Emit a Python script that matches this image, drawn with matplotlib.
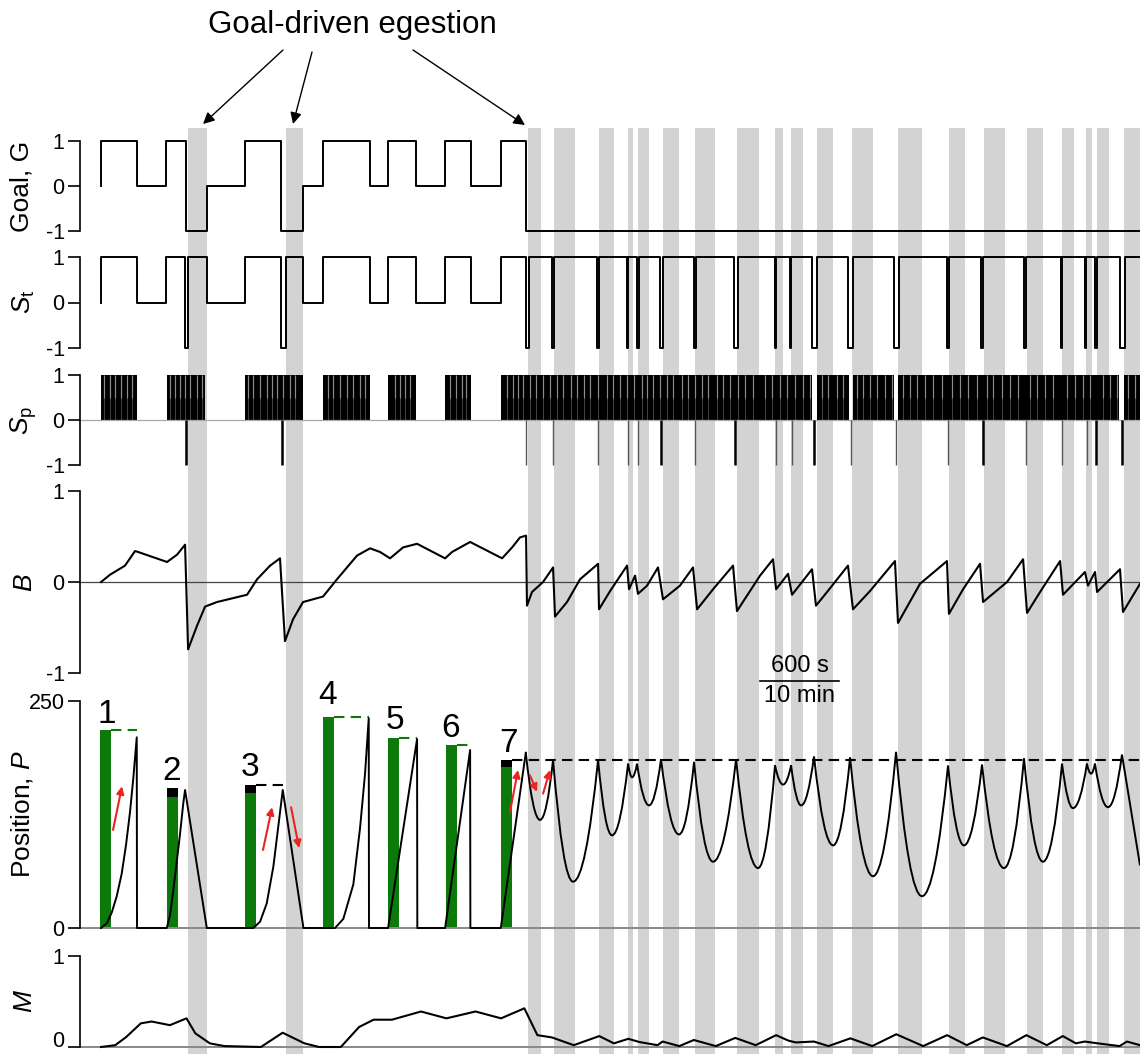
import numpy as np
import matplotlib
matplotlib.use("Agg")
import matplotlib.pyplot as plt
from matplotlib.path import Path
from matplotlib.patches import PathPatch

plt.rcParams['font.family'] = ['Liberation Sans', 'DejaVu Sans']
plt.rcParams['mathtext.fontset'] = 'custom'
plt.rcParams['mathtext.rm'] = 'Liberation Sans'
plt.rcParams['mathtext.it'] = 'Liberation Sans:italic'
plt.rcParams['axes.unicode_minus'] = False

# ---- data (time in seconds) ----
# grey bands (egestion periods)
bands = [(661, 805), (1405, 1534), (3241, 3342), (3440, 3600), (3782, 3896),
         (4003, 4040), (4078, 4162), (4268, 4390), (4511, 4663), (4830, 4998),
         (5119, 5180), (5241, 5332), (5438, 5560), (5704, 5863), (6053, 6235),
         (6441, 6562), (6706, 6866), (7033, 7154), (7299, 7390), (7481, 7527),
         (7565, 7656), (7770, 7960)]

# goal G, step changes
goal_t = [0, 0, 273, 494, 646, 805, 1094, 1367, 1534, 1686, 2043, 2180, 2392,
          2613, 2810, 3038, 3228]
goal_v = [0, 1, 0, 1, -1, 0, 1, -1, 0, 1, 0, 1, 0, 1, 0, 1, -1]

# St, step changes before the switch, then brief -1 pulses
st_t = [0, 0, 273, 494, 638, 661, 805, 1094, 1367, 1405, 1534, 1686, 2043,
        2180, 2392, 2613, 2810, 3038]
st_v = [0, 1, 0, 1, -1, 1, 0, 1, -1, 1, 0, 1, 0, 1, 0, 1, 0, 1]
st_neg = [(3228, 3251), (3425, 3440), (3767, 3782), (3995, 4006), (4071, 4082),
          (4246, 4268), (4504, 4515), (4808, 4838), (5119, 5130), (5233, 5244),
          (5400, 5438), (5673, 5711), (6023, 6061), (6425, 6440), (6684, 6699),
          (7010, 7025), (7291, 7302), (7473, 7484), (7549, 7565), (7739, 7777)]

# Sp spike bursts, light gaps inside bursts, and -1 spikes
sp_bursts = [(0, 276), (499, 790), (1094, 1534), (1686, 2043), (2180, 2392),
             (2613, 2810), (3036, 5400), (5438, 5681), (5711, 6023),
             (6053, 7735), (7770, 7960)]
sp_gaps = [23, 68, 106, 152, 197, 235, 524, 562, 600, 638, 676, 729, 767,
           1116, 1154, 1207, 1261, 1299, 1337, 1382, 1435, 1473, 1724, 1762,
           1815, 1868, 1914, 1967, 2005, 2233, 2271, 2309, 2347, 2651, 2696,
           2742, 2772, 3084, 3129, 3167, 3205, 3258, 3304, 3357, 3410, 3463,
           3509, 3570, 3615, 3668, 3714, 3775, 3843, 3889, 3942, 3995, 4048,
           4109, 4147, 4192, 4246, 4299, 4344, 4413, 4458, 4511, 4564, 4610,
           4678, 4724, 4777, 4838, 4891, 4952, 5043, 5096, 5157, 5210, 5271,
           5332, 5385, 5476, 5522, 5590, 5635, 5742, 5787, 5840, 5894, 5954,
           6008, 6091, 6144, 6198, 6258, 6319, 6387, 6463, 6524, 6585, 6653,
           6729, 6775, 6843, 6904, 6965, 7056, 7109, 7170, 7230, 7337, 7398,
           7458, 7511, 7610, 7663, 7717, 7800, 7853]
sp_neg_thick = [646, 1375, 4253, 4815, 5415, 6699, 7557, 7754]
sp_neg_thin = [3228, 3433, 3775, 4003, 4078, 4511, 5127, 5248, 5696, 6038,
               6433, 7025, 7299, 7488]

# B
b_t = [0, 68, 182, 258, 281, 501, 577, 638, 661, 729, 790, 881, 1109, 1185,
       1284, 1359, 1397, 1458, 1534, 1686, 1792, 1944, 2043, 2119, 2195, 2294,
       2400, 2613, 2666, 2803, 3046, 3122, 3182, 3228, 3235, 3273, 3357, 3433,
       3448, 3539, 3638, 3775, 3782, 3866, 3995, 4010, 4056, 4078, 4147, 4230,
       4268, 4397, 4496, 4527, 4648, 4800, 4830, 4906, 5005, 5104, 5127, 5218,
       5248, 5400, 5430, 5514, 5673, 5711, 5840, 6030, 6053, 6220, 6425, 6440,
       6547, 6676, 6699, 6881, 7003, 7033, 7132, 7284, 7306, 7473, 7496, 7549,
       7565, 7739, 7762, 7891]
b_v = [0, 0.08, 0.18, 0.34, 0.33, 0.22, 0.30, 0.41, -0.74, -0.48, -0.27,
       -0.22, -0.14, 0.03, 0.18, 0.26, -0.65, -0.41, -0.22, -0.16, 0.03, 0.29,
       0.37, 0.33, 0.26, 0.38, 0.42, 0.26, 0.33, 0.44, 0.26, 0.38, 0.49, 0.51,
       -0.26, -0.11, 0.0, 0.16, -0.38, -0.22, 0.03, 0.20, -0.30, -0.10, 0.18,
       -0.08, 0.07, -0.13, -0.04, 0.16, -0.19, -0.04, 0.16, -0.30, -0.08, 0.18,
       -0.32, -0.15, 0.07, 0.25, -0.08, 0.09, -0.14, 0.14, -0.26, -0.11, 0.18,
       -0.30, -0.10, 0.23, -0.45, -0.02, 0.23, -0.35, -0.08, 0.20, -0.22, 0.0,
       0.25, -0.34, -0.11, 0.23, -0.14, 0.11, -0.04, 0.11, -0.11, 0.14, -0.33,
       -0.02]

# position P: early transports (polyline)
p1_t = [0, 43, 81, 119, 157, 190, 220, 245, 271, 273, 499, 524, 549, 574, 600,
        625, 638, 803, 1157, 1208, 1258, 1309, 1347, 1380, 1537, 1777, 1840,
        1916, 1967, 2005, 2033, 2035, 2180, 2400, 2402, 2613, 2803, 2805, 3036,
        3226]
p1_v = [0, 5, 17, 35, 60, 92, 128, 165, 210, 0, 0, 14, 42, 72, 104, 138, 152,
        0, 0, 7, 27, 68, 113, 152, 0, 0, 10, 48, 110, 170, 231, 0, 0, 208, 0, 0,
        196, 0, 0, 193]
# position P: late oscillation, alternating peaks and minima
p2_t = [3226, 3334, 3433, 3585, 3775, 3881, 4003, 4033, 4071, 4162, 4253, 4390,
        4504, 4648, 4823, 4990, 5119, 5180, 5241, 5317, 5415, 5560, 5689, 5863,
        6038, 6235, 6433, 6554, 6691, 6858, 7010, 7154, 7299, 7382, 7488, 7519,
        7549, 7648, 7754, 7891]
p2_v = [193, 119, 185, 51, 185, 102, 181, 166, 181, 135, 186, 103, 183, 73,
        186, 66, 179, 158, 179, 135, 189, 91, 188, 57, 194, 35, 179, 91, 180, 66,
        187, 73, 181, 132, 181, 170, 181, 133, 191, 69]

# green bars: left, right, green top, cap top (black), dashed-line end, dash colour
bar_left = [-8, 501, 1094, 1686, 2180, 2620, 3036]
bar_right = [76, 585, 1177, 1770, 2263, 2704, 3122]
bar_green = [218, 144, 149, 232, 209, 201, 177]
bar_cap = [218, 154, 157, 232, 209, 201, 185]
dash_end = [273, None, 1380, 2035, 2400, 2803, 7960]
dash_black = [False, True, True, False, False, False, True]
bar_names = ['1', '2', '3', '4', '5', '6', '7']
name_t = [46, 539, 1132, 1724, 2233, 2658, 3091]
name_p = [235, 172, 177, 256, 229, 220, 203]

# red arrows (start, end) in (t, P)
red_arrows = [((91, 108), (159, 156)), ((1230, 86), (1299, 133)),
              ((1443, 133), (1504, 88)), ((3106, 128), (3167, 174)),
              ((3258, 168), (3311, 150)), ((3357, 148), (3410, 174))]

# M
m_t = [0, 108, 191, 302, 384, 523, 649, 716, 826, 937, 1214, 1379, 1545, 1656,
       1821, 1960, 2070, 2209, 2430, 2623, 2844, 3038, 3215, 3314, 3425, 3590,
       3784, 3895, 4005, 4088, 4226, 4265, 4392, 4502, 4669, 4817, 4972, 5127,
       5221, 5276, 5414, 5525, 5691, 5857, 6040, 6244, 6426, 6575, 6697, 6880,
       7028, 7183, 7305, 7404, 7471, 7571, 7736, 7792, 7891]
m_v = [0, 0.02, 0.11, 0.26, 0.28, 0.24, 0.315, 0.15, 0.04, 0.01, 0, 0.157,
       0.04, 0, 0, 0.22, 0.30, 0.30, 0.39, 0.315, 0.39, 0.315, 0.425, 0.13,
       0.105, 0.02, 0.12, 0.04, 0.09, 0.055, 0.02, 0.06, 0.01, 0.077, 0.01,
       0.10, 0.02, 0.13, 0.07, 0.05, 0.06, 0.01, 0.095, 0.01, 0.14, 0.01, 0.13,
       0.02, 0.105, 0.01, 0.13, 0.02, 0.12, 0.04, 0.06, 0.04, 0.01, 0.06, 0.02]

# ---- layout (figure pixels) ----
W, H = 1140, 1054
X0 = 80
T0, T1, T_END = -160, 7891, 7960
GREEN = '#0b7a0b'
RED = '#e8251f'

fig = plt.figure(figsize=(W / 100, H / 100), dpi=100)

bg = fig.add_axes([X0 / W, 0, 1 - X0 / W, 1 - 128 / H], zorder=0)
bg.set_xlim(T0, T1)
bg.set_ylim(0, 1)
bg.axis('off')
for a, b in bands:
    bg.axvspan(a, b, color='#d3d3d3', lw=0)


def panel(y_top, y_bot, v_top, v_bot, ticks, pad=8):
    per_px = (v_top - v_bot) / (y_bot - y_top)
    top, bot = y_top - pad, y_bot + pad
    ax = fig.add_axes([X0 / W, 1 - bot / H, 1 - X0 / W, (bot - top) / H], zorder=1)
    ax.patch.set_visible(False)
    ax.set_xlim(T0, T1)
    ax.set_ylim(v_bot - pad * per_px, v_top + pad * per_px)
    for s in ['top', 'right', 'bottom']:
        ax.spines[s].set_visible(False)
    ax.spines['left'].set_bounds(v_bot, v_top)
    ax.spines['left'].set_linewidth(1.2)
    ax.set_yticks(ticks)
    ax.tick_params(axis='x', bottom=False, labelbottom=False)
    ax.tick_params(axis='y', direction='out', length=9, width=1.2,
                   labelsize=15.5, pad=2)
    return ax


def label(text, x, y):
    fig.text(x / W, 1 - y / H, text, rotation=90, ha='center', va='center',
             fontsize=19)


ax_g = panel(141, 231, 1, -1, [-1, 0, 1])
ax_s = panel(257, 348, 1, -1, [-1, 0, 1])
ax_p = panel(375, 465, 1, -1, [-1, 0, 1])
ax_b = panel(491, 673, 1, -1, [-1, 0, 1])
ax_pos = panel(701, 928, 250, 0, [0, 250])
ax_m = panel(956, 1047, 1, 0, [0, 1])
ax_m.get_yticklabels()[0].set_va('baseline')

label('Goal, G', 22, 186)
label(r'$S_\mathrm{t}$', 24, 302)
label(r'$S_\mathrm{p}$', 24, 420)
label(r'$B$', 25, 583)
label(r'Position, $P$', 22, 814)
label(r'$M$', 25, 1001)

# goal
ax_g.step(goal_t + [T_END], goal_v + [goal_v[-1]], where='post', color='k', lw=1.4)

# St
st_x = list(st_t)
st_y = list(st_v)
for a, b in st_neg:
    st_x += [a, b]
    st_y += [-1, 1]
ax_s.step(st_x + [T_END], st_y + [1], where='post', color='k', lw=1.4)

# Sp
ax_p.axhline(0, color='#aaaaaa', lw=0.9)
for a, b in sp_bursts:
    ax_p.bar(a, 1, width=b - a, align='edge', color='k', lw=0)
ax_p.vlines(sp_gaps, 0, 1, color='white', lw=0.6, alpha=0.3)
ax_p.vlines(sp_gaps, 0.5, 1, color='white', lw=0.9, alpha=0.4)
ax_p.vlines(sp_neg_thin, -1, 0, color='#555555', lw=1.0)
ax_p.vlines(sp_neg_thick, -1, 0, color='k', lw=1.8)

# B
ax_b.axhline(0, color='#444444', lw=0.9)
ax_b.plot(b_t, b_v, color='k', lw=1.5)

# position
ax_pos.axhline(0, color='#888888', lw=1.4)
for i in range(len(bar_names)):
    w = bar_right[i] - bar_left[i]
    ax_pos.bar(bar_left[i], bar_green[i], width=w, align='edge', color=GREEN, lw=0)
    if bar_cap[i] > bar_green[i]:
        ax_pos.bar(bar_left[i], bar_cap[i] - bar_green[i], width=w,
                   bottom=bar_green[i], align='edge', color='k', lw=0)
    if dash_end[i] is not None:
        ax_pos.plot([bar_right[i], dash_end[i]], [bar_cap[i], bar_cap[i]],
                    color='k' if dash_black[i] else GREEN, lw=1.5,
                    linestyle=(0, (5, 3)))
    ax_pos.text(name_t[i], name_p[i], bar_names[i], ha='center', va='center',
                fontsize=24)

ax_pos.plot(p1_t, p1_v, color='k', lw=1.4)
verts = [(p2_t[0], p2_v[0])]
codes = [Path.MOVETO]
for i in range(1, len(p2_t)):
    a = (p2_t[i - 1], p2_v[i - 1])
    b = (p2_t[i], p2_v[i])
    if i == len(p2_t) - 1:
        verts.append(b)
        codes.append(Path.LINETO)
    else:
        verts += [((a[0] + b[0]) / 2, min(a[1], b[1])), b]
        codes += [Path.CURVE3, Path.CURVE3]
ax_pos.add_patch(PathPatch(Path(verts, codes), fill=False, ec='k', lw=1.4))

for start, end in red_arrows:
    ax_pos.annotate('', xy=end, xytext=start,
                    arrowprops=dict(arrowstyle='-|>', color=RED, lw=1.5,
                                    mutation_scale=11, shrinkA=0, shrinkB=0))

# scale bar
ax_pos.plot([5005, 5605], [272, 272], color='k', lw=1.2, clip_on=False)
ax_pos.text(5305, 276, '600 s', ha='center', va='bottom', fontsize=17)
ax_pos.text(5305, 268, '10 min', ha='center', va='top', fontsize=17)

# M
ax_m.axhline(0, color='#888888', lw=1.4)
ax_m.plot(m_t, m_v, color='k', lw=1.5)

# annotation
fig.text(352 / W, 1 - 33 / H, 'Goal-driven egestion', ha='center',
         va='baseline', fontsize=22.5)
for (x0, y0), (x1, y1) in [((283, 50), (203, 124)), ((312, 52), (293, 124)),
                           ((413, 50), (525, 125))]:
    bg.annotate('', xy=(x1 / W, 1 - y1 / H), xytext=(x0 / W, 1 - y0 / H),
                xycoords='figure fraction', textcoords='figure fraction',
                arrowprops=dict(arrowstyle='-|>', color='k', lw=1.0,
                                mutation_scale=17, shrinkA=0, shrinkB=0))

fig.savefig('out.png', dpi=100)
